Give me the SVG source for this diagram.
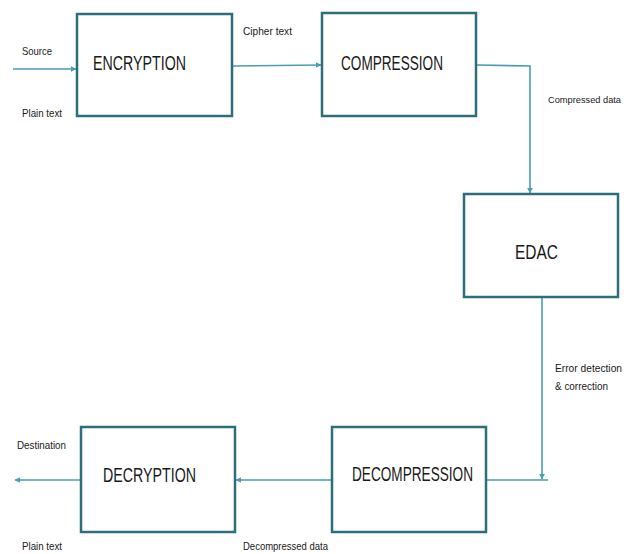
<svg xmlns="http://www.w3.org/2000/svg" width="631" height="554" viewBox="0 0 631 554">
  <style>
    .box { fill: #ffffff; stroke: #2d6e7c; stroke-width: 2.5; }
    .title { font-family: "Liberation Sans", Arial, sans-serif; font-size: 20px; fill: #1a1a1a; }
    .lbl { font-family: "Liberation Sans", Arial, sans-serif; font-size: 11px; fill: #1a1a1a; }
    .lbl.small { font-size: 9.5px; }
    .wire { fill: none; stroke: #4a9db2; stroke-width: 1.6; }
  </style>
  <defs>
    <marker id="arrow" viewBox="0 0 10 10" refX="9" refY="5" markerWidth="6" markerHeight="6" orient="auto" markerUnits="userSpaceOnUse">
      <path d="M0,0 L10,5 L0,10 z" fill="#4a9db2"/>
    </marker>
  </defs>

  <g id="connectors">
    <line class="wire" x1="13" y1="69" x2="76" y2="69" marker-end="url(#arrow)"/>
    <line class="wire" x1="233" y1="66" x2="321" y2="65" marker-end="url(#arrow)"/>
    <polyline class="wire" points="477,65 530,66 530,193" marker-end="url(#arrow)"/>
    <line class="wire" x1="542" y1="298" x2="542" y2="479" marker-end="url(#arrow)"/>
    <line class="wire" x1="487" y1="480" x2="548" y2="480"/>
    <line class="wire" x1="331" y1="480" x2="236" y2="480" marker-end="url(#arrow)"/>
    <line class="wire" x1="80" y1="480" x2="15" y2="480" marker-end="url(#arrow)"/>
  </g>

  <g id="encryption">
    <rect class="box" x="77" y="14" width="155" height="102"/>
    <text class="title" x="93" y="70" textLength="93" lengthAdjust="spacingAndGlyphs">ENCRYPTION</text>
  </g>
  <g id="compression">
    <rect class="box" x="322" y="13" width="154" height="103"/>
    <text class="title" x="341" y="70" textLength="102" lengthAdjust="spacingAndGlyphs">COMPRESSION</text>
  </g>
  <g id="edac">
    <rect class="box" x="464" y="194" width="154" height="103"/>
    <text class="title" x="515" y="259" textLength="43" lengthAdjust="spacingAndGlyphs">EDAC</text>
  </g>
  <g id="decompression">
    <rect class="box" x="332" y="427" width="154" height="105"/>
    <text class="title" x="352" y="481" textLength="121" lengthAdjust="spacingAndGlyphs">DECOMPRESSION</text>
  </g>
  <g id="decryption">
    <rect class="box" x="81" y="427" width="154" height="105"/>
    <text class="title" x="103" y="482" textLength="93" lengthAdjust="spacingAndGlyphs">DECRYPTION</text>
  </g>

  <g id="labels">
    <text class="lbl" x="22" y="55" textLength="30" lengthAdjust="spacingAndGlyphs">Source</text>
    <text class="lbl" x="22" y="117" textLength="40" lengthAdjust="spacingAndGlyphs">Plain text</text>
    <text class="lbl" x="243" y="35" textLength="49" lengthAdjust="spacingAndGlyphs">Cipher text</text>
    <text class="lbl small" x="548" y="103" textLength="73" lengthAdjust="spacingAndGlyphs">Compressed data</text>
    <text class="lbl" x="555" y="372" textLength="67" lengthAdjust="spacingAndGlyphs">Error detection</text>
    <text class="lbl" x="555" y="390" textLength="53" lengthAdjust="spacingAndGlyphs">&amp; correction</text>
    <text class="lbl" x="17" y="449" textLength="49" lengthAdjust="spacingAndGlyphs">Destination</text>
    <text class="lbl" x="22" y="550" textLength="40" lengthAdjust="spacingAndGlyphs">Plain text</text>
    <text class="lbl" x="243" y="550" textLength="85" lengthAdjust="spacingAndGlyphs">Decompressed data</text>
  </g>
</svg>
